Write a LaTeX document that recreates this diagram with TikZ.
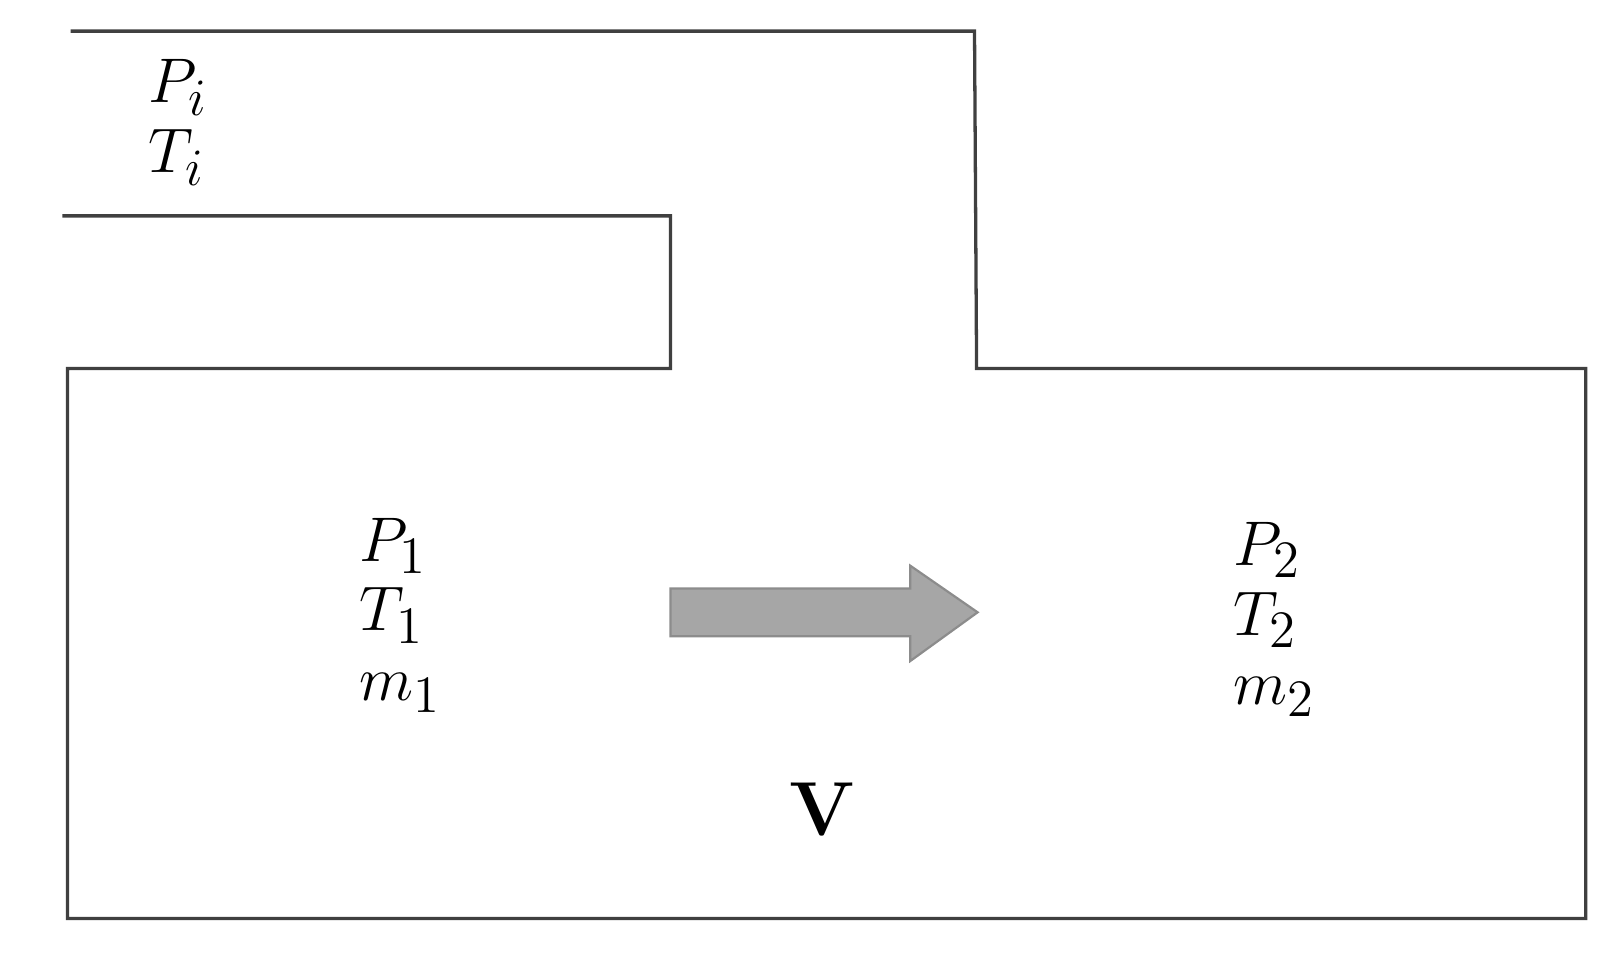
\documentclass[tikz,border=0pt]{standalone}
\begin{document}
\begin{tikzpicture}[x=0.01cm,y=-0.01cm,
  wall/.style={line width=0.9pt,draw=black!75},
  lab/.style={font=\fontsize{19}{22}\selectfont,align=left}]
\useasboundingbox (0,0) rectangle (1560,918);
\coordinate (a) at (68,30);
\draw[wall] (a) -- (939,30) -- (941,355) -- (1528,355) -- (1528,885) -- (65,885) -- (65,355) -- (646,355) -- (646,208) -- (60,208);
\draw[fill=black!35,draw=black!45,line width=0.6pt] (646,567) -- (877,567) -- (877,545) -- (942,590) -- (877,637) -- (877,613) -- (646,613) -- cycle;
\node[lab] (i) at (172,118) {$P_i$\\[-3pt]$T_i$};
\node[lab] (one) at (386,593) {$P_1$\\[-3pt]$T_1$\\[-3pt]$m_1$};
\node[lab] (two) at (1228,597) {$P_2$\\[-3pt]$T_2$\\[-3pt]$m_2$};
\node[font=\fontsize{21}{25}\selectfont\bfseries] (v) at (792,780) {V};
\end{tikzpicture}
\end{document}
